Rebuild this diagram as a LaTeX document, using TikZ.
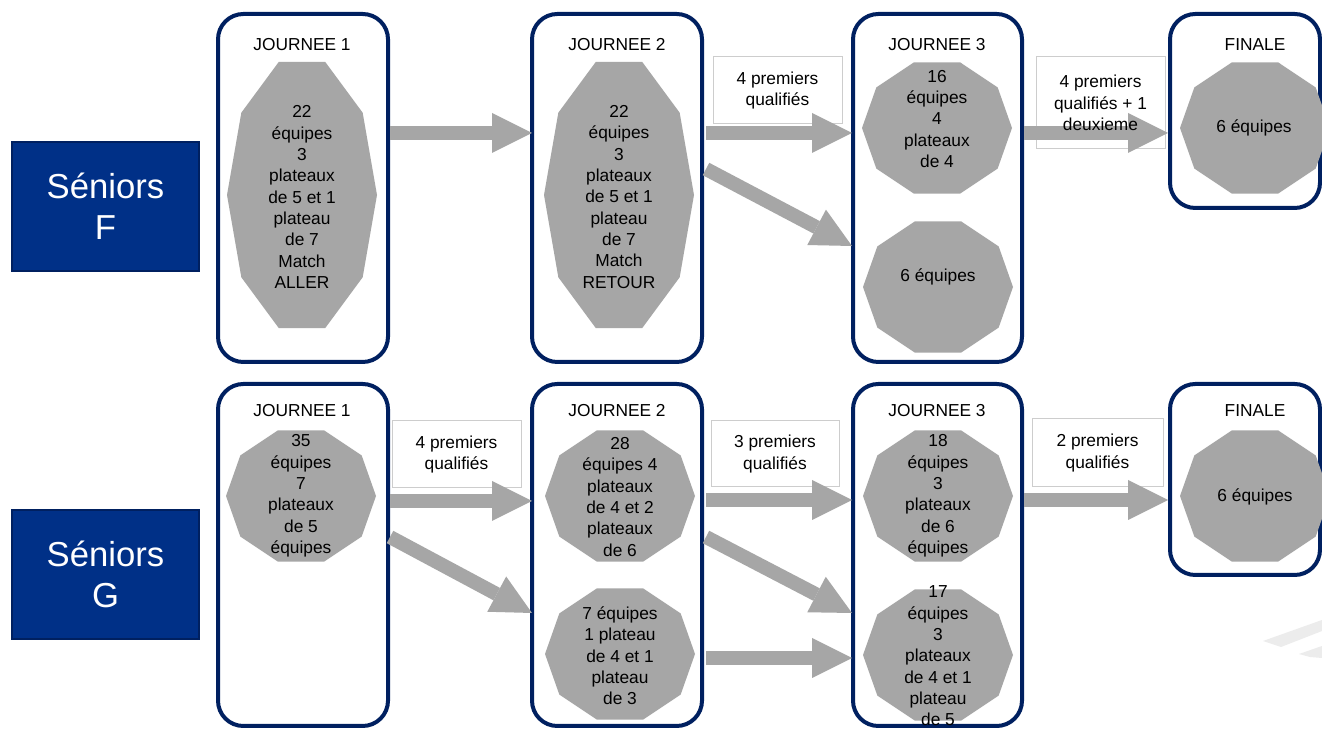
\documentclass[tikz,border=0pt]{standalone}
\usepackage{fontspec}
\setmainfont{Liberation Sans}
\usetikzlibrary{arrows.meta,fit}
\definecolor{navy}{RGB}{0,32,96}
\definecolor{sblue}{RGB}{0,48,135}
\definecolor{gshape}{RGB}{166,166,166}
\definecolor{lblline}{RGB}{205,205,205}
\definecolor{wmark}{RGB}{236,236,236}
\newcommand\deca[5]{\fill[gshape] ({#2+#4},#3) \foreach \a in {36,72,...,324}{ -- ({#2+#4*cos(\a)},{#3+#5*sin(\a)})} -- cycle; \coordinate (#1) at (#2,#3);}
\begin{document}
\begin{tikzpicture}[x=0.75pt,y=-0.75pt,
 jbox/.style={draw=navy,line width=3pt,rounded corners=19pt,inner sep=0pt},
 sbox/.style={fill=sblue,draw=navy,line width=0.8pt,inner sep=0pt},
 stext/.style={text=white,font=\fontsize{26}{31}\selectfont,align=center},
 ttl/.style={font=\fontsize{13}{16}\selectfont,inner sep=0pt},
 otext/.style={font=\fontsize{13}{16}\selectfont,align=center,inner sep=0pt},
 lbox/.style={draw=lblline,fill=white,line width=0.75pt,inner sep=0pt},
 ltext/.style={font=\fontsize{13}{16}\selectfont,align=center,inner sep=0pt},
 garrow/.style={draw=gshape,line width=10.5pt,-{Triangle[length=30pt 0 1,width=30pt 0 1,line width=0pt 0 1]}},
]
\useasboundingbox (0,0) rectangle (1322,730);
\fill[white] (0,0) rectangle (1322,730);
% watermark
\fill[wmark] (1263,641) -- (1322,620) -- (1322,631) -- (1281,647) -- cycle;
\fill[wmark] (1299,654) -- (1322,646) -- (1322,658) -- (1310,657) -- cycle;
% category boxes
\node[sbox,fit={(12,142)(199,271)}] (sf) {};
\node[stext] at (sf.center) {Séniors\\F};
\node[sbox,fit={(12,510)(199,639)}] (sg) {};
\node[stext] at (sg.center) {Séniors\\G};
% stage boxes
\node[jbox,fit={(218,14)(388,362)}] (r1j1) {};
\node[jbox,fit={(532,14)(702,362)}] (r1j2) {};
\node[jbox,fit={(853,14)(1022,362)}] (r1j3) {};
\node[jbox,fit={(1170,14)(1320,208)}] (r1f) {};
\node[jbox,fit={(218,384)(388,726)}] (r2j1) {};
\node[jbox,fit={(532,384)(702,726)}] (r2j2) {};
\node[jbox,fit={(853,384)(1022,726)}] (r2j3) {};
\node[jbox,fit={(1170,384)(1320,575)}] (r2f) {};
% titles
\node[ttl] (t11) at (302,45) {JOURNEE 1};
\node[ttl] (t12) at (617,45) {JOURNEE 2};
\node[ttl] (t13) at (937,45) {JOURNEE 3};
\node[ttl] (t14) at (1255,45) {FINALE};
\node[ttl] (t21) at (302,411) {JOURNEE 1};
\node[ttl] (t22) at (617,411) {JOURNEE 2};
\node[ttl] (t23) at (937,411) {JOURNEE 3};
\node[ttl] (t24) at (1255,411) {FINALE};
% label boxes
\node[lbox,fit={(713,57)(842,124)}] (l11) {};
\node[lbox,fit={(1036,57)(1165,149)}] (l13) {};
\node[lbox,fit={(392,421)(521,488)}] (l21) {};
\node[lbox,fit={(711,421)(839,487)}] (l22) {};
\node[lbox,fit={(1032,419)(1163,487)}] (l23) {};
% arrow end points
\coordinate (a11s) at (390,133); \coordinate (a11e) at (532,133);
\coordinate (a12s) at (706,133); \coordinate (a12e) at (852,133);
\coordinate (a13s) at (706,169); \coordinate (a13e) at (852,246);
\coordinate (a14s) at (1024,133); \coordinate (a14e) at (1168,133);
\coordinate (a21s) at (390,501); \coordinate (a21e) at (532,501);
\coordinate (a22s) at (390,537); \coordinate (a22e) at (532,613);
\coordinate (a23s) at (706,500); \coordinate (a23e) at (852,500);
\coordinate (a24s) at (706,537); \coordinate (a24e) at (852,613);
\coordinate (a25s) at (706,658); \coordinate (a25e) at (852,658);
\coordinate (a26s) at (1024,500); \coordinate (a26e) at (1168,500);
\draw[garrow] (a11s) -- (a11e);
\draw[garrow] (a12s) -- (a12e);
\draw[garrow] (a13s) -- (a13e);
\draw[garrow] (a14s) -- (a14e);
\draw[garrow] (a21s) -- (a21e);
\draw[garrow] (a22s) -- (a22e);
\draw[garrow] (a23s) -- (a23e);
\draw[garrow] (a24s) -- (a24e);
\draw[garrow] (a25s) -- (a25e);
\draw[garrow] (a26s) -- (a26e);
% label texts
\node[ltext] at (l11.center) {4 premiers\\qualifiés};
\node[ltext] at (l13.center) {4 premiers\\qualifiés + 1\\deuxieme};
\node[ltext] at (l21.center) {4 premiers\\qualifiés};
\node[ltext] at (l22.center) {3 premiers\\qualifiés};
\node[ltext] at (l23.center) {2 premiers\\qualifiés};
% decagons
\deca{d11}{302}{195}{75}{140}
\deca{d12}{619}{195}{75}{140}
\deca{d13a}{937}{128}{75}{69}
\deca{d13b}{938}{287}{75}{69}
\deca{d14}{1255}{128}{75}{69}
\deca{d21}{301}{496}{75}{69}
\deca{d22a}{620}{496}{75}{69}
\deca{d22b}{620}{654}{75}{69}
\deca{d23a}{938}{496}{75}{69}
\deca{d23b}{938}{655}{75}{69}
\deca{d24}{1255}{496}{75}{69}
% decagon texts
\node[otext] (o11) at (302,197) {22\\équipes\\3\\plateaux\\de 5 et 1\\plateau\\de 7\\Match\\ALLER};
\node[otext] (o12) at (619,197) {22\\équipes\\3\\plateaux\\de 5 et 1\\plateau\\de 7\\Match\\RETOUR};
\node[otext] (o13a) at (937,119) {16\\équipes\\4\\plateaux\\de 4};
\node[otext] (o13b) at (938,277) {6 équipes};
\node[otext] (o14) at (1254,128) {6 équipes};
\node[otext] (o21) at (301,496) {35\\équipes\\7\\plateaux\\de 5\\équipes};
\node[otext] (o22a) at (620,497) {28\\équipes 4\\plateaux\\de 4 et 2\\plateaux\\de 6};
\node[otext] (o22b) at (620,656) {7 équipes\\1 plateau\\de 4 et 1\\plateau\\de 3};
\node[otext] (o23a) at (938,496) {18\\équipes\\3\\plateaux\\de 6\\équipes};
\node[otext] (o23b) at (938,656) {17\\équipes\\3\\plateaux\\de 4 et 1\\plateau\\de 5};
\node[otext] (o24) at (1255,497) {6 équipes};
\end{tikzpicture}
\end{document}
